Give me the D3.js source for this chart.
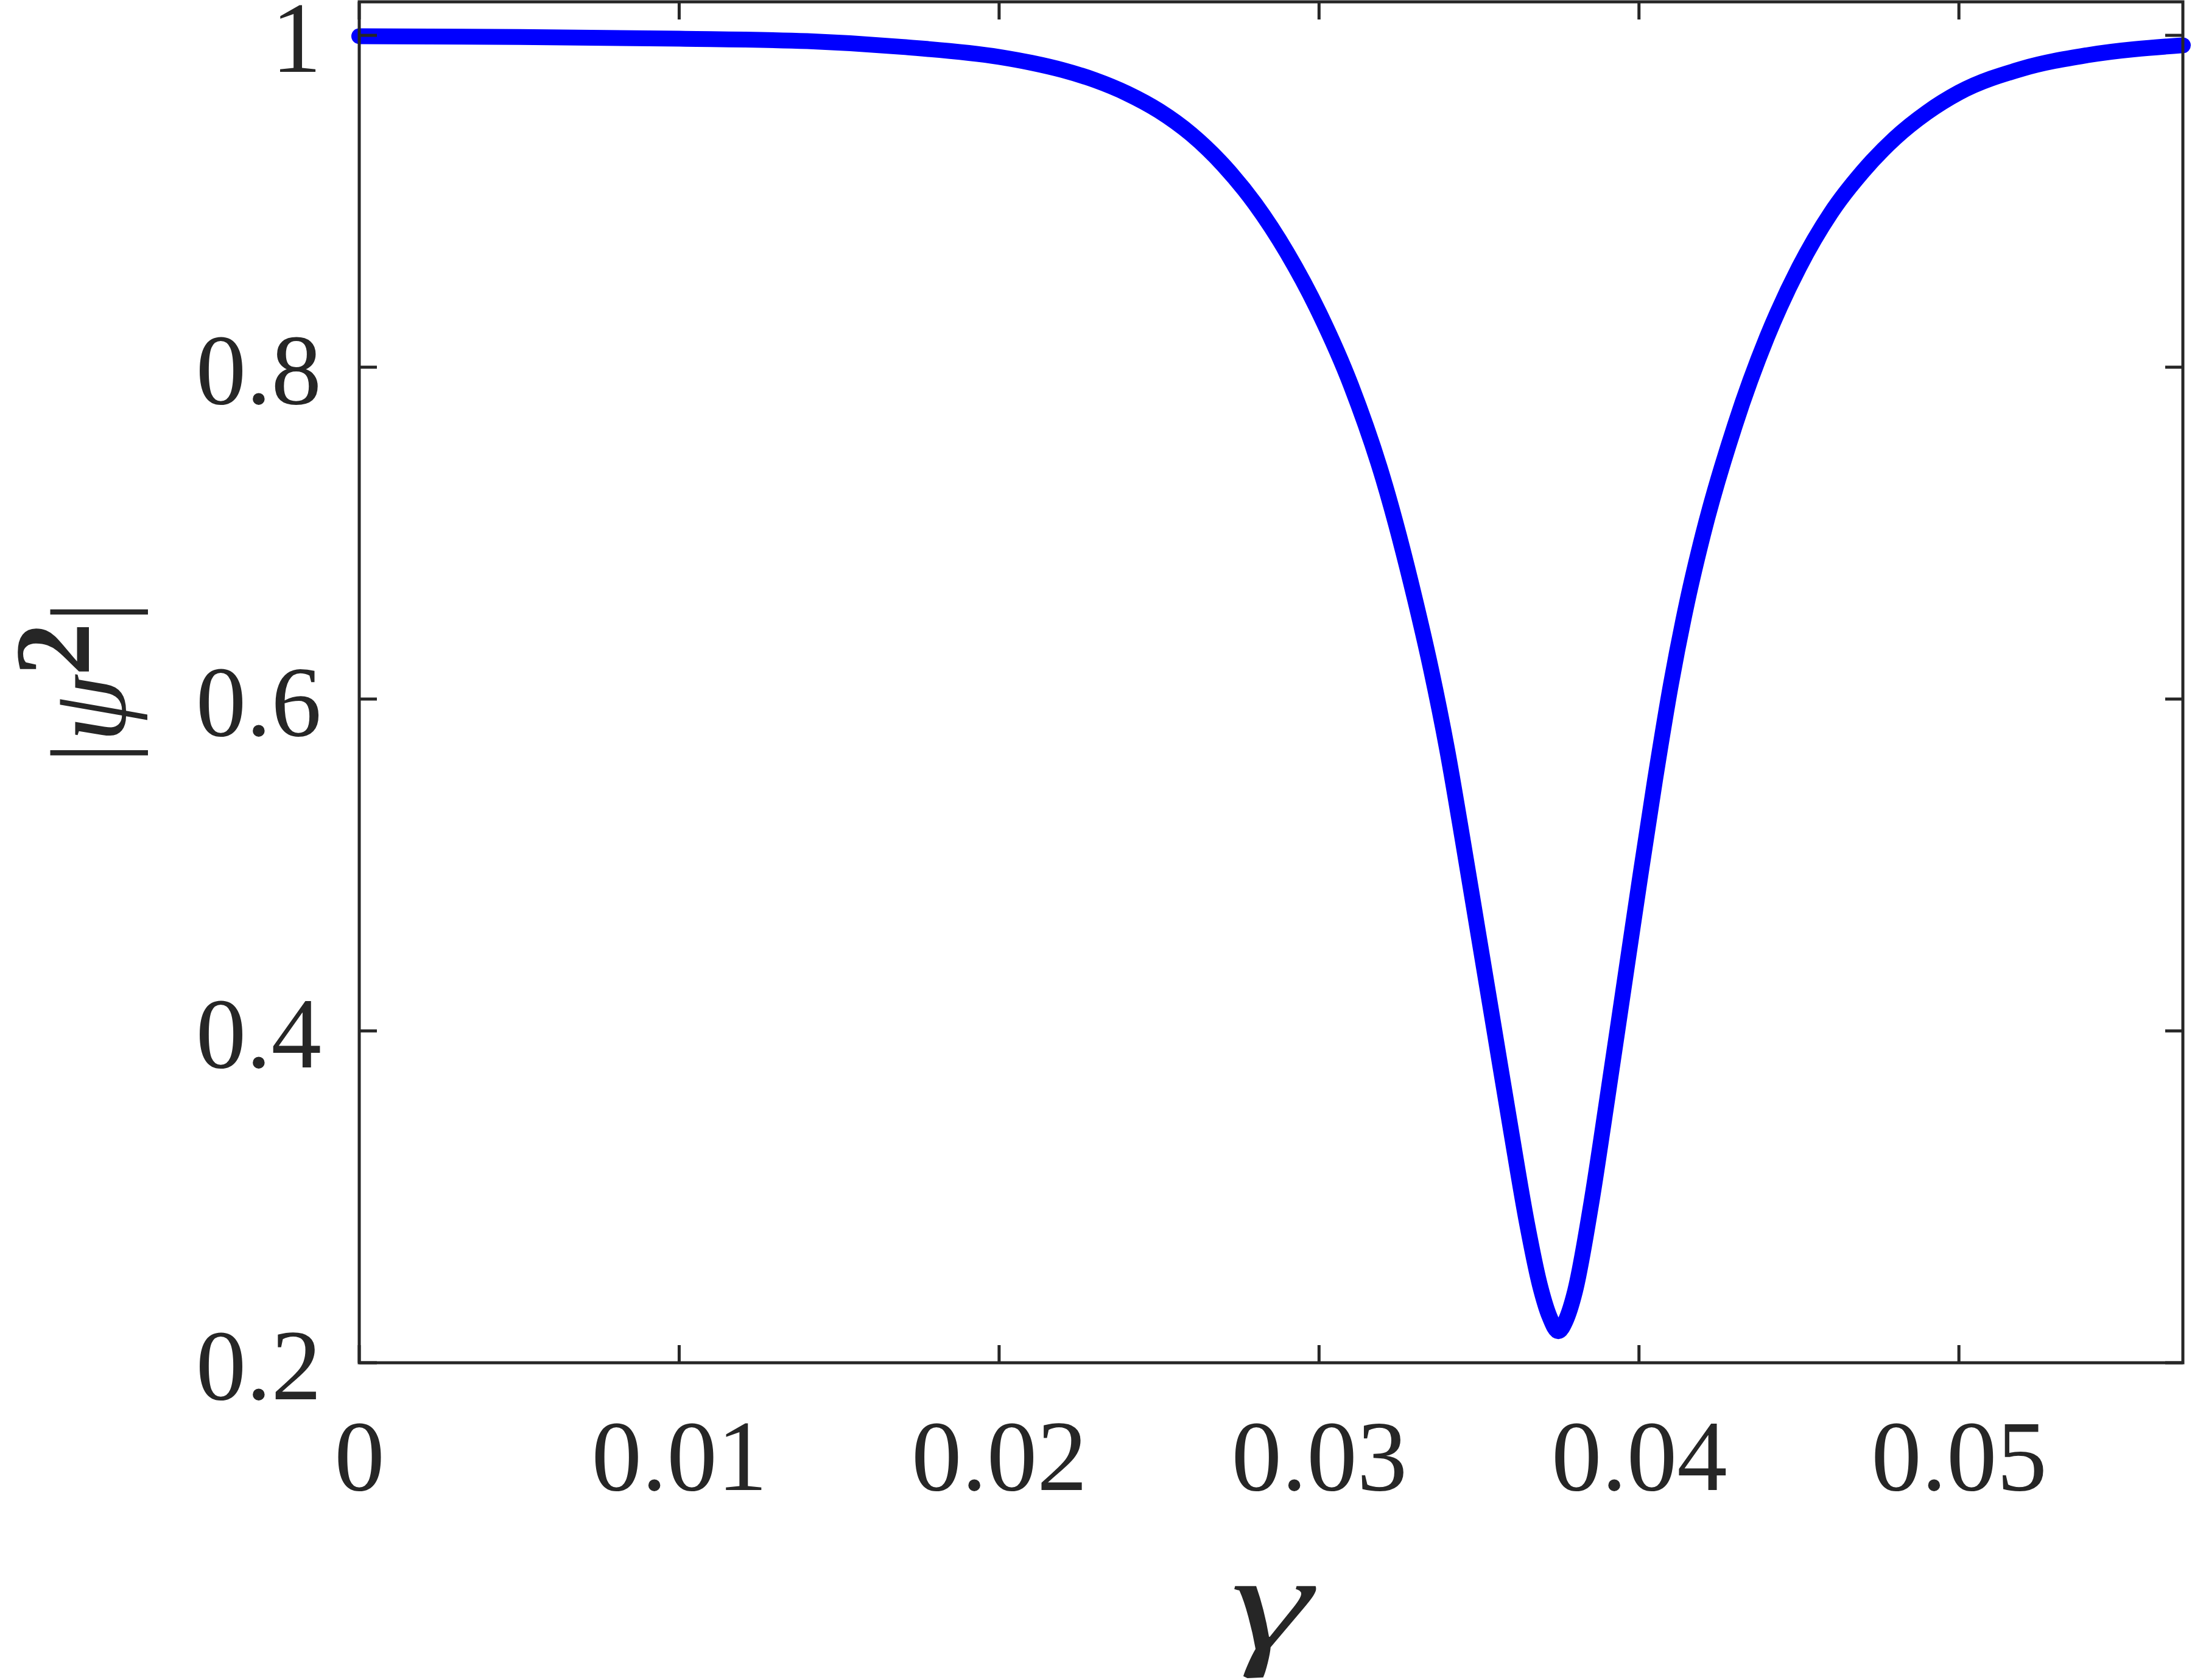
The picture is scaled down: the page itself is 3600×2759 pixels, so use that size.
<!DOCTYPE html>
<html>
<head>
<meta charset="utf-8">
<script src="https://cdn.jsdelivr.net/npm/d3@7"></script>
<style>
  body { margin: 0; background: #fff; }
  .axis text { font-family: "Liberation Serif", "Times New Roman", serif; fill: #262626; }
</style>
</head>
<body>
<div id="chartDiv"></div>
<script>
// values
let gammaValues = [0, 0.005, 0.010, 0.014, 0.017, 0.020, 0.021, 0.022, 0.023, 0.024, 0.025,
	0.026, 0.027, 0.028, 0.029, 0.030, 0.031, 0.032, 0.033, 0.0335, 0.034, 0.0345,
	0.035, 0.0355, 0.036, 0.0365, 0.0369, 0.0372, 0.03748, 0.0377, 0.0380, 0.0385,
	0.0390, 0.0395, 0.0400, 0.0405, 0.0410, 0.0415, 0.042, 0.043, 0.044, 0.045,
	0.046, 0.047, 0.048, 0.049, 0.050, 0.052, 0.054, 0.057];
let psiValues = [0.9995, 0.999, 0.998, 0.9965, 0.993, 0.987, 0.9835, 0.979, 0.973, 0.965, 0.9545,
	0.9405, 0.922, 0.8985, 0.869, 0.833, 0.789, 0.733, 0.660, 0.618, 0.570, 0.514,
	0.456, 0.398, 0.340, 0.284, 0.247, 0.228, 0.219, 0.225, 0.243, 0.295,
	0.358, 0.423, 0.488, 0.551, 0.609, 0.658, 0.699, 0.765, 0.818, 0.860,
	0.893, 0.918, 0.938, 0.9535, 0.9655, 0.980, 0.988, 0.994];
let xTicks = [0, 0.01, 0.02, 0.03, 0.04, 0.05];
let xTickLabels = ["0", "0.01", "0.02", "0.03", "0.04", "0.05"];
let yTicks = [0.2, 0.4, 0.6, 0.8, 1];
let yTickLabels = ["0.2", "0.4", "0.6", "0.8", "1"];

let svgWidth = 3600, svgHeight = 2759;
let plotLeft = 590, plotRight = 3585, plotTop = 3, plotBottom = 2238;
let axisColor = "#262626";

let svg = d3.select("#chartDiv")
	.append("svg")
	.attr("width", svgWidth)
	.attr("height", svgHeight);

let xScale = d3.scaleLinear()
	.domain([0, 0.057])
	.range([plotLeft, plotRight]);

let yScale = d3.scaleLinear()
	.domain([0.2, 1.0202])
	.range([plotBottom, plotTop]);

let data = gammaValues.map(function(g, i){ return {g: g, v: psiValues[i]}; });

// curve first, axes on top
let valueline = d3.line()
	.x(function(d){ return xScale(d.g); })
	.y(function(d){ return yScale(d.v); })
	.curve(d3.curveMonotoneX);

svg.append("path")
	.datum(data)
	.attr("d", valueline)
	.attr("fill", "none")
	.attr("stroke", "#0000ff")
	.attr("stroke-width", 26)
	.attr("stroke-linecap", "round")
	.attr("stroke-linejoin", "round");

let tickLen = 29;

let xAxis = d3.axisBottom(xScale)
	.tickValues(xTicks)
	.tickSize(0)
	.tickPadding(200)
	.tickFormat(function(d, i){ return xTickLabels[i]; });

let xAxisG = svg.append("g")
	.attr("class", "axis")
	.attr("transform", "translate(0," + plotBottom + ")")
	.call(xAxis);
xAxisG.select(".domain").remove();
xAxisG.selectAll("text")
	.attr("y", 209)
	.attr("dy", 0)
	.style("font-size", "165px");

let yAxis = d3.axisLeft(yScale)
	.tickValues(yTicks)
	.tickSize(0)
	.tickPadding(62)
	.tickFormat(function(d, i){ return yTickLabels[i]; });

let yAxisG = svg.append("g")
	.attr("class", "axis")
	.attr("transform", "translate(" + plotLeft + ",0)")
	.call(yAxis);
yAxisG.select(".domain").remove();
yAxisG.selectAll("text")
	.attr("dy", "0.36em")
	.style("font-size", "165px");

// inner ticks on all four sides
let tickG = svg.append("g")
	.attr("stroke", axisColor)
	.attr("stroke-width", 5);

xTicks.forEach(function(t){
	tickG.append("line")
		.attr("x1", xScale(t)).attr("x2", xScale(t))
		.attr("y1", plotBottom).attr("y2", plotBottom - tickLen);
	tickG.append("line")
		.attr("x1", xScale(t)).attr("x2", xScale(t))
		.attr("y1", plotTop).attr("y2", plotTop + tickLen);
});
yTicks.forEach(function(t){
	tickG.append("line")
		.attr("x1", plotLeft).attr("x2", plotLeft + tickLen)
		.attr("y1", yScale(t)).attr("y2", yScale(t));
	tickG.append("line")
		.attr("x1", plotRight).attr("x2", plotRight - tickLen)
		.attr("y1", yScale(t)).attr("y2", yScale(t));
});

// box
svg.append("rect")
	.attr("x", plotLeft)
	.attr("y", plotTop)
	.attr("width", plotRight - plotLeft)
	.attr("height", plotBottom - plotTop)
	.attr("fill", "none")
	.attr("stroke", axisColor)
	.attr("stroke-width", 5);

// axis labels
svg.append("text")
	.attr("transform", "translate(" + ((plotLeft + plotRight) / 2) + ",2708) scale(1.5,1)")
	.attr("text-anchor", "middle")
	.style("font-family", "'Liberation Serif', serif")
	.style("font-style", "italic")
	.style("font-size", "225px")
	.attr("fill", axisColor)
	.text("γ");

let yLabel = svg.append("text")
	.attr("transform", "translate(205," + ((plotTop + plotBottom) / 2) + ") rotate(-90)")
	.attr("text-anchor", "middle")
	.style("font-family", "'Liberation Serif', serif")
	.style("font-size", "175px")
	.attr("fill", axisColor);
yLabel.append("tspan").text("|");
yLabel.append("tspan").style("font-style", "italic").text("ψ");
yLabel.append("tspan").style("font-weight", "bold").attr("dy", "-0.34em").text("2");
yLabel.append("tspan").attr("dy", "0.34em").text("|");
</script>
</body>
</html>
